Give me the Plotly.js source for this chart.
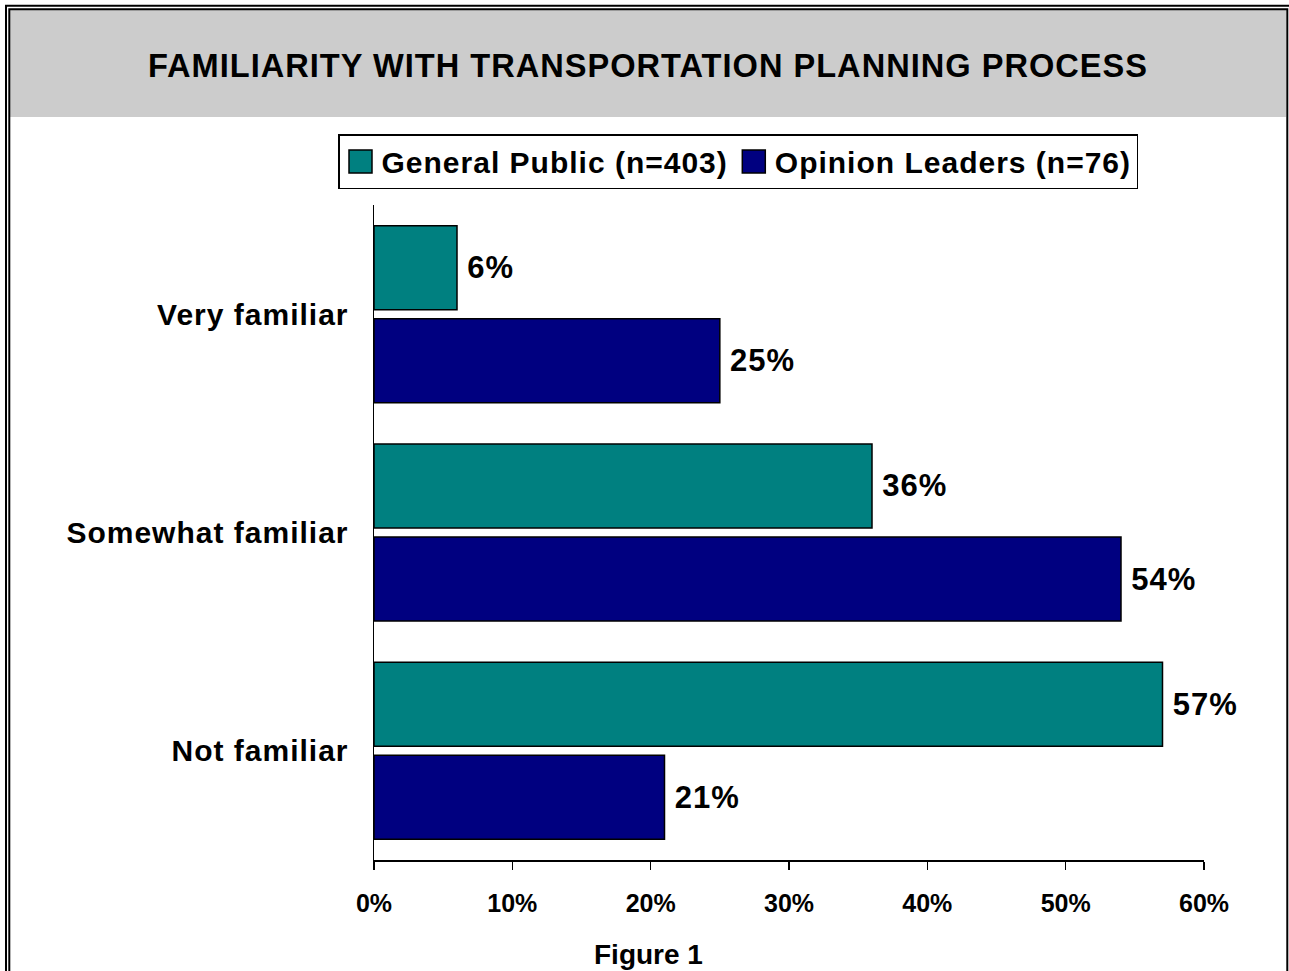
<!DOCTYPE html>
<html>
<head>
<meta charset="utf-8">
<script src="https://cdn.plot.ly/plotly-3.0.1.min.js"></script>
<style>
  html, body { margin: 0; padding: 0; background: #ffffff; }
  #chart { width: 1289px; height: 971px; }
  .gtitle, .legendtext, .ytick text, .bartext { letter-spacing: 1px; }
</style>
</head>
<body>
<div id="chart"></div>
<script>
// ---- data ----
const categories = ["Very familiar", "Somewhat familiar", "Not familiar"];
const generalPublic = [6, 36, 57];
const opinionLeaders = [25, 54, 21];
const seriesNames = ["General Public (n=403)", "Opinion Leaders (n=76)"];
const tickValues = [0, 10, 20, 30, 40, 50, 60];
const tickLabels = ["0%", "10%", "20%", "30%", "40%", "50%", "60%"];
const chartTitle = "FAMILIARITY WITH TRANSPORTATION PLANNING PROCESS";
const footerText = "Figure 1";

// ---- layout geometry (pixels) ----
const W = 1289, H = 971;
const M = { l: 374, r: 85, t: 205, b: 111 };
const pw = W - M.l - M.r, ph = H - M.t - M.b;
const px2x = p => (p - M.l) / pw;
const px2y = p => (H - M.b - p) / ph;

const FONT = "Liberation Sans, Arial, Helvetica, sans-serif";

const barLine = { color: "#000000", width: 1.5 };
const textFont = { family: FONT, size: 31, color: "#000000", weight: "bold" };

const traces = [
  {
    type: "bar", orientation: "h", name: seriesNames[0],
    y: categories, x: generalPublic,
    marker: { color: "#008080", line: barLine },
    texttemplate: "\u2009%{x}%", textposition: "outside", textfont: textFont,
    cliponaxis: false, constraintext: "none", hoverinfo: "skip"
  },
  {
    type: "bar", orientation: "h", name: seriesNames[1],
    y: categories, x: opinionLeaders,
    marker: { color: "#000080", line: barLine },
    texttemplate: "\u2009%{x}%", textposition: "outside", textfont: textFont,
    cliponaxis: false, constraintext: "none", hoverinfo: "skip"
  }
];

const shapes = [
  // gray title band
  { type: "rect", xref: "paper", yref: "paper", layer: "below",
    x0: px2x(10), x1: px2x(1286), y0: px2y(117), y1: px2y(10),
    fillcolor: "#cccccc", line: { width: 0 } },
  // outer frame
  { type: "rect", xref: "paper", yref: "paper", layer: "above",
    x0: px2x(6), x1: px2x(1293), y0: px2y(1010), y1: px2y(5.8),
    fillcolor: "rgba(0,0,0,0)", line: { color: "#000000", width: 2 } },
  // inner frame
  { type: "rect", xref: "paper", yref: "paper", layer: "above",
    x0: px2x(9.3), x1: px2x(1287.3), y0: px2y(1000), y1: px2y(9.2),
    fillcolor: "rgba(0,0,0,0)", line: { color: "#000000", width: 2 } }
];

const layout = {
  width: W, height: H,
  margin: { l: M.l, r: M.r, t: M.t, b: M.b, pad: 0, autoexpand: false },
  paper_bgcolor: "#ffffff", plot_bgcolor: "#ffffff",
  font: { family: FONT, color: "#000000" },
  title: {
    text: chartTitle,
    font: { family: FONT, size: 32.6, color: "#000000", weight: "bold" },
    xref: "container", yref: "container",
    x: 648 / W, xanchor: "center", y: 1 - 66 / H, yanchor: "middle"
  },
  barmode: "group", bargap: 0.148, bargroupgap: 0.097,
  showlegend: true,
  legend: {
    orientation: "h", x: px2x(338), xanchor: "left", y: px2y(134), yanchor: "top",
    bordercolor: "#000000", borderwidth: 1.5, bgcolor: "#ffffff",
    font: { family: FONT, size: 30, color: "#000000", weight: "bold" },
    traceorder: "normal", itemwidth: 32
  },
  xaxis: {
    range: [0, 60], tickmode: "array", tickvals: tickValues, ticktext: tickLabels,
    showgrid: false, zeroline: false, showline: true, linecolor: "#000000", linewidth: 1.5,
    ticks: "outside", ticklen: 8, tickwidth: 1.5, tickcolor: "#000000",
    tickfont: { family: FONT, size: 25, color: "#000000", weight: "bold" },
    ticklabelstandoff: 12, fixedrange: true
  },
  yaxis: {
    type: "category", categoryorder: "array", categoryarray: categories,
    autorange: "reversed",
    showgrid: false, zeroline: false, showline: true, linecolor: "#000000", linewidth: 1.5,
    ticks: "", ticklabelstandoff: 18,
    tickfont: { family: FONT, size: 30, color: "#000000", weight: "bold" },
    fixedrange: true
  },
  shapes: shapes,
  annotations: [
    { text: footerText, xref: "paper", yref: "paper", x: px2x(648), y: px2y(955),
      xanchor: "center", yanchor: "middle", showarrow: false,
      font: { family: FONT, size: 28, color: "#000000", weight: "bold" } }
  ]
};

Plotly.newPlot("chart", traces, layout, { displayModeBar: false, staticPlot: true }).then(gd => {
  // enlarge the legend swatches to match the reference's square keys
  gd.querySelectorAll(".legendpoints path").forEach(p => {
    p.setAttribute("d", "M11.5,11.5H-11.5V-11.5H11.5Z");
  });
});
</script>
</body>
</html>
